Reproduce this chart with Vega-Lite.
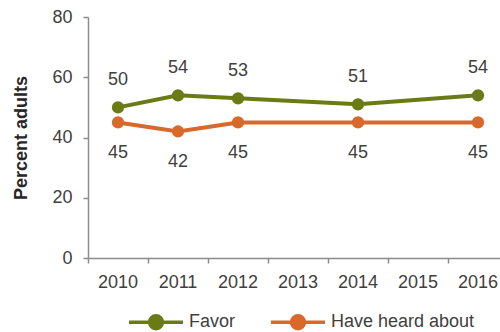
{
  "$schema": "https://vega.github.io/schema/vega-lite/v6.json",
  "width": 420,
  "height": 241,
  "autosize": {"type": "none"},
  "padding": {"left": 88, "top": 17, "right": -8, "bottom": 74},
  "config": {"view": {"stroke": null}, "font": "Liberation Sans"},
  "data": {
    "values": [
      {"year": "2010", "series": "Favor", "value": 50},
      {"year": "2011", "series": "Favor", "value": 54},
      {"year": "2012", "series": "Favor", "value": 53},
      {"year": "2014", "series": "Favor", "value": 51},
      {"year": "2016", "series": "Favor", "value": 54},
      {"year": "2010", "series": "Have heard about", "value": 45},
      {"year": "2011", "series": "Have heard about", "value": 42},
      {"year": "2012", "series": "Have heard about", "value": 45},
      {"year": "2014", "series": "Have heard about", "value": 45},
      {"year": "2016", "series": "Have heard about", "value": 45}
    ]
  },
  "encoding": {
    "x": {
      "field": "year",
      "type": "ordinal",
      "scale": {"type": "band", "domain": ["2010", "2011", "2012", "2013", "2014", "2015", "2016"], "paddingInner": 0, "paddingOuter": 0},
      "axis": {
        "title": null,
        "labelAngle": 0,
        "bandPosition": 0,
        "labelFontSize": 18,
        "labelColor": "#404040",
        "domainColor": "#8c8c8c",
        "domainWidth": 1.5,
        "tickColor": "#8c8c8c",
        "tickWidth": 1.5,
        "tickSize": 5,
        "labelPadding": 10,
        "grid": false
      }
    },
    "y": {
      "field": "value",
      "type": "quantitative",
      "scale": {"domain": [0, 80]},
      "axis": {
        "title": "Percent adults",
        "titleFontSize": 18,
        "titleFontWeight": "bold",
        "titleColor": "#262626",
        "titlePadding": 21,
        "values": [0, 20, 40, 60, 80],
        "labelFontSize": 18,
        "labelColor": "#404040",
        "labelPadding": 11,
        "domainColor": "#8c8c8c",
        "domainWidth": 1.5,
        "tickColor": "#8c8c8c",
        "tickWidth": 1.5,
        "tickSize": 5,
        "grid": false
      }
    },
    "color": {
      "field": "series",
      "type": "nominal",
      "scale": {"domain": ["Favor", "Have heard about"], "range": ["#6a7a14", "#d8692a"]},
      "legend": {
        "title": null,
        "orient": "none",
        "legendX": 39,
        "legendY": 276,
        "direction": "horizontal",
        "labelFontSize": 18,
        "labelColor": "#404040",
        "symbolType": "M-1,0L1,0M0.24,0A0.24,0.24,0,1,1,-0.24,0A0.24,0.24,0,1,1,0.24,0Z",
        "symbolSize": 2916,
        "symbolStrokeWidth": 3.5,
        "labelOffset": 4,
        "columnPadding": 28,
        "encode": {
          "symbols": {
            "update": {
              "stroke": {"scale": "color", "field": "value"},
              "fill": {"scale": "color", "field": "value"},
              "opacity": {"value": 1}
            }
          }
        }
      }
    }
  },
  "layer": [
    {"mark": {"type": "line", "strokeWidth": 4}},
    {"mark": {"type": "point", "filled": true, "size": 150, "opacity": 1}},
    {
      "transform": [{"filter": "datum.series === 'Favor'"}],
      "mark": {"type": "text", "fontSize": 18, "dy": -27, "baseline": "middle"},
      "encoding": {"text": {"field": "value", "type": "quantitative"}, "color": {"value": "#404040"}}
    },
    {
      "transform": [{"filter": "datum.series === 'Have heard about'"}],
      "mark": {"type": "text", "fontSize": 18, "dy": 31, "baseline": "middle"},
      "encoding": {"text": {"field": "value", "type": "quantitative"}, "color": {"value": "#404040"}}
    }
  ]
}
